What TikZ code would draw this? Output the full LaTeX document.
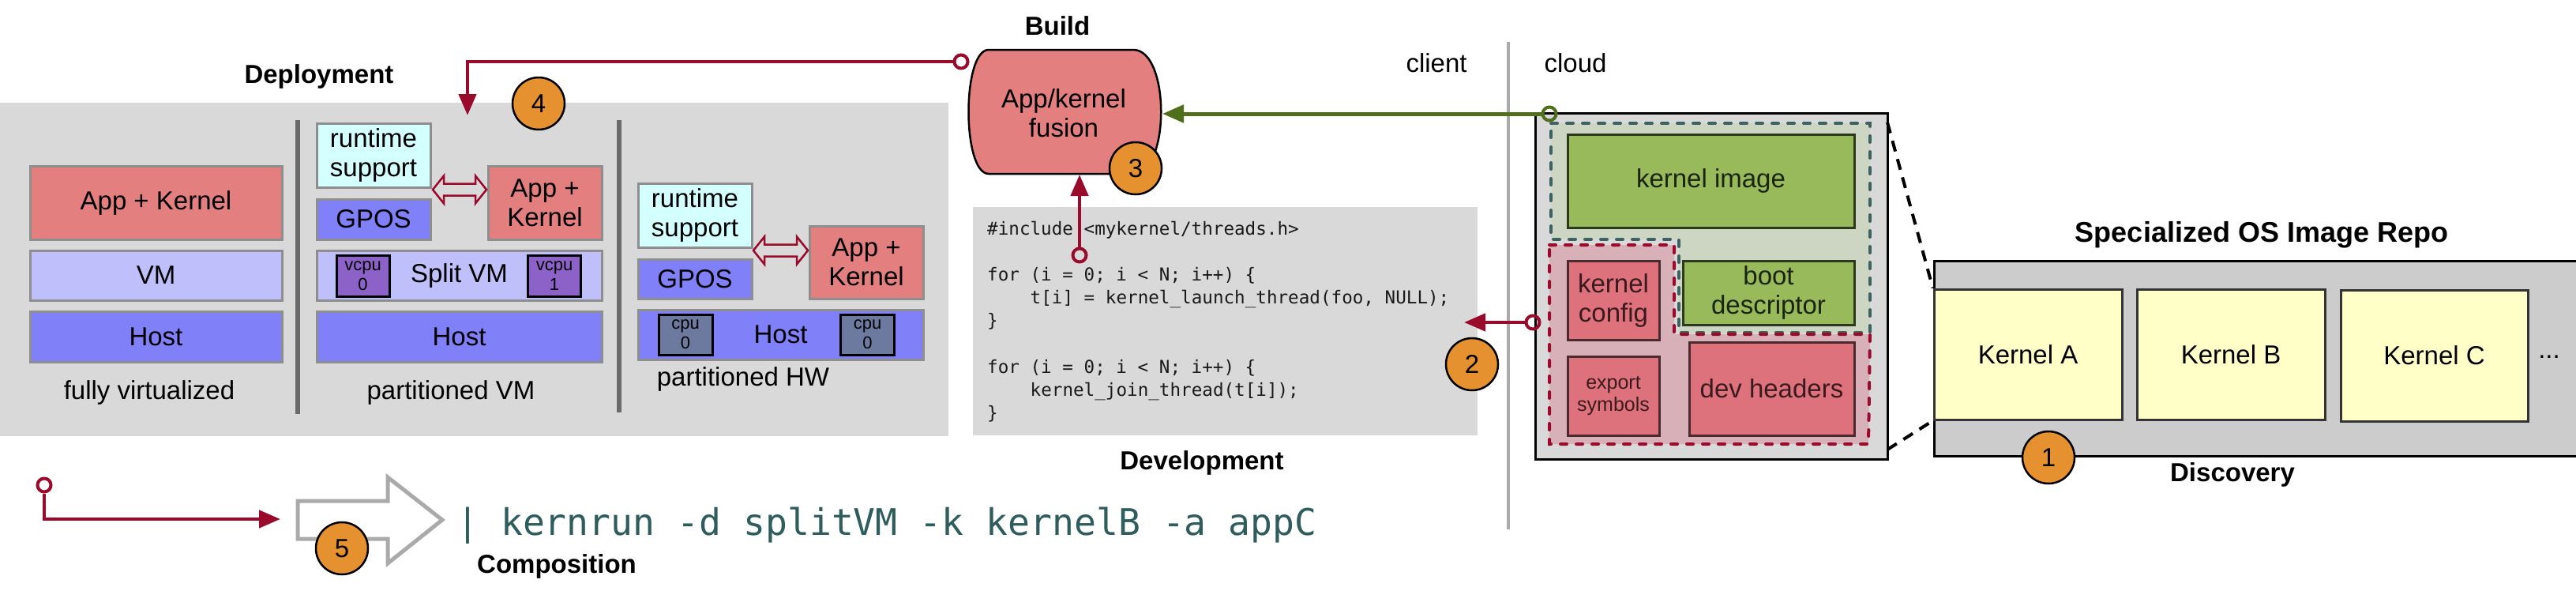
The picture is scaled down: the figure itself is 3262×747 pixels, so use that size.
\documentclass[tikz,border=0pt]{standalone}
\usepackage{fontspec}
\setmainfont{Liberation Sans}
\newfontfamily\codefont{DejaVu Sans Mono}
\usetikzlibrary{arrows.meta}
\newcommand\myfs[2]{\fontsize{#1}{#2}\selectfont}
\definecolor{panelgray}{HTML}{D9D9D9}
\definecolor{akred}{HTML}{E37F7F}
\definecolor{vmlav}{HTML}{BFBFFC}
\definecolor{hostblue}{HTML}{8080F9}
\definecolor{rtcyan}{HTML}{D4FFFF}
\definecolor{vcpupurple}{HTML}{8C62C9}
\definecolor{cpuslate}{HTML}{6D7AA0}
\definecolor{boxborder}{HTML}{8E8E8E}
\definecolor{divgray}{HTML}{6A6A6A}
\definecolor{arrred}{HTML}{9A0A2B}
\definecolor{arrgreen}{HTML}{4F6F1A}
\definecolor{circorange}{HTML}{E6912F}
\definecolor{greenfill}{HTML}{CDD6C2}
\definecolor{greendash}{HTML}{3E6262}
\definecolor{redfill}{HTML}{D8B1B8}
\definecolor{kgreen}{HTML}{98BA5A}
\definecolor{kgreenborder}{HTML}{2B3A1C}
\definecolor{kgreentext}{HTML}{1A2410}
\definecolor{kred}{HTML}{DE727C}
\definecolor{kredborder}{HTML}{4A2A2E}
\definecolor{kredtext}{HTML}{3A1A1E}
\definecolor{repogray}{HTML}{CCCCCC}
\definecolor{kyellow}{HTML}{FFFFC7}
\definecolor{cmdteal}{HTML}{2F5D5D}
\definecolor{cloudline}{HTML}{AAAAAA}
\definecolor{codetext}{HTML}{1A1A1A}
\begin{document}
\begin{tikzpicture}[x=1pt,y=-1pt,
  sz/.style 2 args={minimum width=#1pt, minimum height=#2pt},
  lay/.style={draw=boxborder, line width=3pt, inner sep=0pt, align=center, font=\myfs{33}{37}},
  cpub/.style={draw=black, line width=3pt, inner sep=0pt, align=center, font=\myfs{22}{25}},
  cbox/.style={draw=#1, line width=3pt, inner sep=0pt, align=center, font=\myfs{33}{37}},
  kbox/.style={draw=black!80, line width=3pt, fill=kyellow, inner sep=0pt, font=\myfs{33}{37}},
  title/.style={font=\bfseries\myfs{33}{37}, inner sep=0pt},
  lbl/.style={font=\myfs{33}{37}, inner sep=0pt},
  num/.style={circle, draw=black, line width=2.5pt, fill=circorange, minimum size=66pt, inner sep=0pt, font=\myfs{33}{37}},
  ocirc/.style={circle, draw=#1, line width=4pt, minimum size=17pt, inner sep=0pt},
  redarr/.style={draw=arrred, line width=4.5pt, -{Triangle[length=27pt,width=22pt]}},
  greenarr/.style={draw=arrgreen, line width=5pt, -{Triangle[length=27pt,width=22pt]}},
  divider/.style={draw=divgray, line width=6pt},
  dblarrow/.style={draw=arrred, line width=2.5pt, line join=miter},
  codeline/.style={anchor=base west, inner sep=0pt, text=codetext, font=\codefont\myfs{22.6}{29}},
  blackdash/.style={draw=black, line width=4pt, dash pattern=on 14pt off 10pt},
  regdash/.style={line width=4pt, dash pattern=on 8pt off 12pt, line cap=round}
]
\useasboundingbox (0,0) rectangle (3262,747);
\fill[white] (0,0) rectangle (3262,747);

% ---------------- Deployment ----------------
\node[fill=panelgray, sz={1201}{422}, inner sep=0pt] (deppanel) at (600.5,341) {};
\node[title] (tdep) at (404,97) {Deployment};
\draw[divider] (377,152) coordinate (d1a) -- (377,524) coordinate (d1b);
\draw[divider] (784,152) coordinate (d2a) -- (784,522) coordinate (d2b);

% fully virtualized
\node[lay, fill=akred, sz={319}{93}] (ak1) at (197.5,256.5) {App + Kernel};
\node[lay, fill=vmlav, sz={319}{63}] (vm1) at (197.5,348.5) {VM};
\node[lay, fill=hostblue, sz={319}{64}] (host1) at (197.5,426) {Host};
\node[lbl] (fv) at (189,497) {fully virtualized};

% partitioned VM
\node[lay, fill=rtcyan, sz={144}{81}] (rt2) at (473,196.5) {runtime\\support};
\node[lay, fill=hostblue, sz={144}{51}] (gp2) at (473,277.5) {GPOS};
\node[lay, fill=akred, sz={144}{93}] (ak2) at (690,256.5) {App +\\Kernel};
\node[lay, fill=vmlav, sz={361}{63}] (svm) at (581.5,348.5) {Split VM};
\node[cpub, fill=vcpupurple, sz={67}{52}] (vc0) at (459.5,349) {vcpu\\0};
\node[cpub, fill=vcpupurple, sz={67}{52}] (vc1) at (702,349) {vcpu\\1};
\node[lay, fill=hostblue, sz={361}{64}] (host2) at (581.5,426) {Host};
\node[lbl] (pvm) at (571,497) {partitioned VM};
\draw[dblarrow] (548,240) -- (562,222.5) -- (562,232.5) -- (602,232.5) -- (602,222.5) -- (616,240)
  -- (602,257.5) -- (602,247.5) -- (562,247.5) -- (562,257.5) -- cycle;

% partitioned HW
\node[lay, fill=rtcyan, sz={144}{81}] (rt3) at (880,272.5) {runtime\\support};
\node[lay, fill=hostblue, sz={144}{50}] (gp3) at (880,353) {GPOS};
\node[lay, fill=akred, sz={144}{92}] (ak3) at (1097,332) {App +\\Kernel};
\node[lay, fill=hostblue, sz={361}{63}] (host3) at (988.5,423.5) {Host};
\node[cpub, fill=cpuslate, sz={68}{51}] (cp0) at (868,423.5) {cpu\\0};
\node[cpub, fill=cpuslate, sz={68}{51}] (cp1) at (1098.5,423.5) {cpu\\0};
\node[lbl] (phw) at (941,480) {partitioned HW};
\draw[dblarrow] (954,317) -- (968,299.5) -- (968,309.5) -- (1009,309.5) -- (1009,299.5) -- (1023,317)
  -- (1009,334.5) -- (1009,324.5) -- (968,324.5) -- (968,334.5) -- cycle;

% ---------------- Build ----------------
\node[title] (tbuild) at (1339,33) {Build};
\draw[fill=akred, draw=black, line width=2.5pt] (1252,63) -- (1435,63)
  .. controls (1482,63) and (1482,220) .. (1435,220) -- (1252,220)
  .. controls (1218,220) and (1218,63) .. (1252,63) -- cycle;
\node[lbl, align=center] (fusion) at (1347,143) {App/kernel\\fusion};
\coordinate (fusE) at (1472,144);
\coordinate (fusS) at (1367,221);

% ---------------- Development ----------------
\node[fill=panelgray, sz={639}{289}, inner sep=0pt] (codebox) at (1551.5,406.5) {};
\node[codeline] (c1) at (1250,297) {\#include <mykernel/threads.h>};
\node[codeline] (c2) at (1250,355.5) {for (i = 0; i < N; i++) \{};
\node[codeline] (c3) at (1304.5,384.7) {t[i] = kernel\_launch\_thread(foo, NULL);};
\node[codeline] (c4) at (1250,413.9) {\}};
\node[codeline] (c5) at (1250,472.3) {for (i = 0; i < N; i++) \{};
\node[codeline] (c6) at (1304.5,501.5) {kernel\_join\_thread(t[i]);};
\node[codeline] (c7) at (1250,530.7) {\}};
\node[title] (tdev) at (1522,586) {Development};

% ---------------- client / cloud ----------------
\node[lbl] (tclient) at (1819,80) {client};
\node[lbl] (tcloud) at (1995,80) {cloud};
\draw[draw=cloudline, line width=4pt] (1910,53) coordinate (cc1) -- (1910,670) coordinate (cc2);

\node[draw=black, fill=panelgray, line width=3pt, sz={446}{438}, inner sep=0pt] (cloud) at (2167,362) {};
\draw[regdash, draw=greendash, fill=greenfill] (1964,156) -- (2368,156) -- (2368,421) -- (2126,421)
  -- (2126,303) -- (1964,303) -- cycle;
\draw[regdash, draw=arrred, fill=redfill] (1962,310) -- (2120,310) -- (2120,423) -- (2368,423)
  -- (2366,562) -- (1962,562) -- cycle;
\node[cbox=kgreenborder, fill=kgreen, text=kgreentext, sz={363}{118}] (kimg) at (2166.5,229) {kernel image};
\node[cbox=kredborder, fill=kred, text=kredtext, sz={116}{100}] (kcfg) at (2043,380) {kernel\\config};
\node[cbox=kredborder, fill=kred, text=kredtext, sz={116}{100}, font=\myfs{25}{28}] (exps) at (2043,501) {export\\symbols};
\node[cbox=kgreenborder, fill=kgreen, text=kgreentext, sz={217}{81}] (boot) at (2239.5,370.5) {boot\\descriptor};
\node[cbox=kredborder, fill=kred, text=kredtext, sz={209}{118}] (devh) at (2243.5,492) {dev headers};

% ---------------- Repo ----------------
\node[title, font=\bfseries\myfs{36}{40}] (trepo) at (2864,297) {Specialized OS Image Repo};
\node[draw=black, line width=3pt, fill=repogray, sz={830}{247}, inner sep=0pt] (repo) at (2864,453.5) {};
\node[kbox, sz={238}{165}] (kA) at (2568,448.5) {Kernel A};
\node[kbox, sz={238}{165}] (kB) at (2825,448.5) {Kernel B};
\node[kbox, sz={237}{166}] (kC) at (3082.5,450) {Kernel C};
\node[lbl] (dots) at (3228,452) {...};
\node[title] (tdisc) at (2827,601) {Discovery};
\coordinate (zt) at (2390,155);
\coordinate (zb) at (2390,569);
\draw[blackdash] (zt) -- (kA.north west);
\draw[blackdash] (zb) -- (kA.south west);

% ---------------- Composition ----------------
\draw[draw=cloudline, line width=5pt, line join=miter] (377,634) -- (491,634) -- (491,604) -- (560,658)
  -- (491,713) -- (491,682) -- (377,682) -- cycle;
\node[anchor=base west, inner sep=0pt, font=\codefont\myfs{46.4}{50}, text=cmdteal] (cmd) at (578,677)
  {| kernrun -d splitVM -k kernelB -a appC};
\node[title] (tcomp) at (705,717) {Composition};

% ---------------- connectors ----------------
\node[ocirc=arrred] (s4) at (1217,78) {};
\coordinate (t4) at (592,146);
\draw[redarr] (s4) -| (t4);

\node[ocirc=arrred] (s3) at (1367,323) {};
\draw[redarr] (s3) -- (fusS);

\node[ocirc=arrred] (s2) at (1941,408) {};
\coordinate (t2) at (1854,408);
\draw[redarr] (s2) -- (t2);

\node[ocirc=arrgreen] (sg) at (1962,144) {};
\draw[greenarr] (sg) -- (fusE);

\node[ocirc=arrred] (s5) at (56,614) {};
\coordinate (t5) at (355,657);
\draw[redarr] (s5) |- (t5);

% ---------------- step numbers ----------------
\node[num] (n1) at (2594,579) {1};
\node[num] (n2) at (1864,461) {2};
\node[num] (n3) at (1438,213) {3};
\node[num] (n4) at (682,131) {4};
\node[num] (n5) at (433,694) {5};
\end{tikzpicture}
\end{document}
